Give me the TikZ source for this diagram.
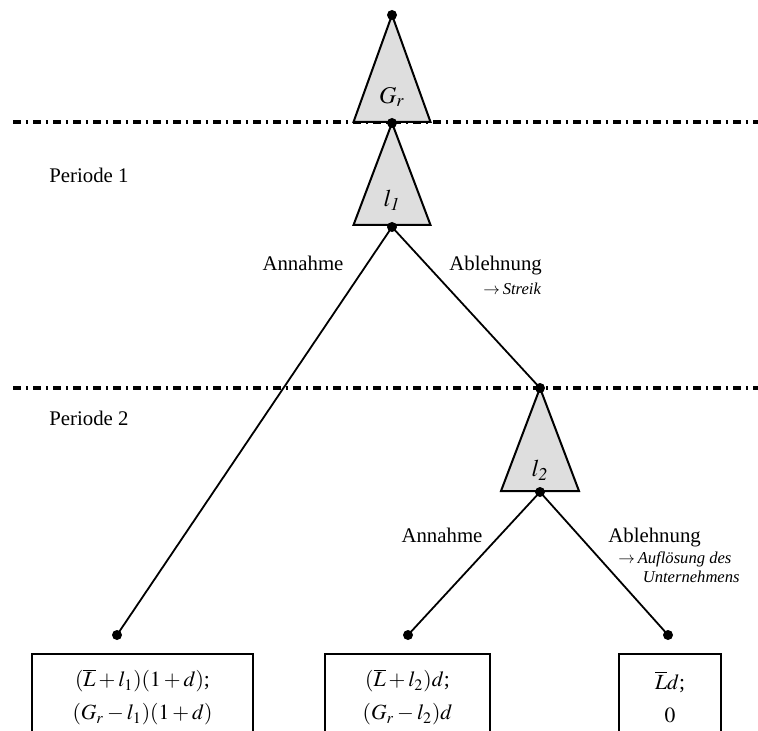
\documentclass[tikz,border=0pt]{standalone}
\usepackage{mathptmx}
\usepackage{fontspec}
\setmainfont{Liberation Serif}
\usetikzlibrary{positioning}
\definecolor{trigray}{gray}{0.87}

\begin{document}
\begin{tikzpicture}[x=0.5pt, y=-0.5pt,
    dot/.style={circle, fill=black, inner sep=0pt, minimum size=5pt},
    tri/.style={draw=black, fill=trigray, line width=1pt, line join=miter},
    edge/.style={line width=0.9pt},
    period/.style={line width=1.6pt, dash pattern=on 4pt off 2.4pt on 1.2pt off 2.4pt},
    lbl/.style={inner sep=0pt, font=\fontsize{10.4}{12}\selectfont},
    trilbl/.style={inner sep=0pt, font=\fontsize{12}{14}\selectfont},
    note/.style={inner sep=0pt, font=\fontsize{8.3}{9.6}\selectfont\itshape},
    payoff/.style={draw, line width=1pt, anchor=north, minimum height=43pt,
      align=center, inner sep=0pt, font=\fontsize{10.8}{16.5}\selectfont}]
  \clip (0,0) rectangle (758,731);

  \coordinate (r0) at (392,15);
  \coordinate (r1) at (392,123);
  \coordinate (r2) at (392,227);
  \coordinate (r3) at (540,388);
  \coordinate (r4) at (540,492);
  \coordinate (endA) at (117,635);
  \coordinate (endB) at (408,635);
  \coordinate (endC) at (668,635);
  \coordinate (sep1) at (13,122);
  \coordinate (sep2) at (13,388);

  \draw[period] (sep1) -- ++(745,0);
  \draw[period] (sep2) -- ++(745,0);

  \filldraw[tri] (r0) -- ++(-38.5,107) -- ++(77,0) -- cycle;
  \filldraw[tri] (r1) -- ++(-38.5,102) -- ++(77,0) -- cycle;
  \filldraw[tri] (r3) -- ++(-39,103) -- ++(78,0) -- cycle;

  \node[trilbl] (gr) at (392,97) {$G_r$};
  \node[trilbl] (l1) at (392,200) {$l_{\mathit{1}}$};
  \node[trilbl] (l2) at (540,470) {$l_{\mathit{2}}$};

  \draw[edge] (r2) -- (endA);
  \draw[edge] (r2) -- (r3);
  \draw[edge] (r4) -- (endB);
  \draw[edge] (r4) -- (endC);

  \foreach \p in {r0,r1,r2,r3,r4,endA,endB,endC}
    \node[dot] at (\p) {};

  \node[lbl, anchor=base west] (per1) at (49,183) {Periode 1};
  \node[lbl, anchor=base west] (per2) at (49,425) {Periode 2};

  \node[lbl, anchor=base] (ann1) at (303,271) {Annahme};
  \node[lbl, anchor=base west] (abl1) at (449,271) {Ablehnung};
  \node[note, anchor=base west] (streik) at (483,295) {$\rightarrow$\,Streik};
  \node[lbl, anchor=base] (ann2) at (442,542) {Annahme};
  \node[lbl, anchor=base west] (abl2) at (608,542) {Ablehnung};
  \node[note, anchor=base west] (aufl) at (618,563) {$\rightarrow$\,Auflösung des};
  \node[note, anchor=base east] (unter) at (740,582) {Unternehmens};

  \node[payoff, minimum width=110.5pt] (payA) at (142.5,653)
    {$(\overline{L}+l_1)(1+d)$;\\ $(G_r-l_1)(1+d)$};
  \node[payoff, minimum width=82.5pt] (payB) at (407.5,653)
    {$(\overline{L}+l_2)d$;\\ $(G_r-l_2)d$};
  \node[payoff, minimum width=51pt] (payC) at (670,653)
    {$\overline{L}d$;\\ $0$};
\end{tikzpicture}
\end{document}
